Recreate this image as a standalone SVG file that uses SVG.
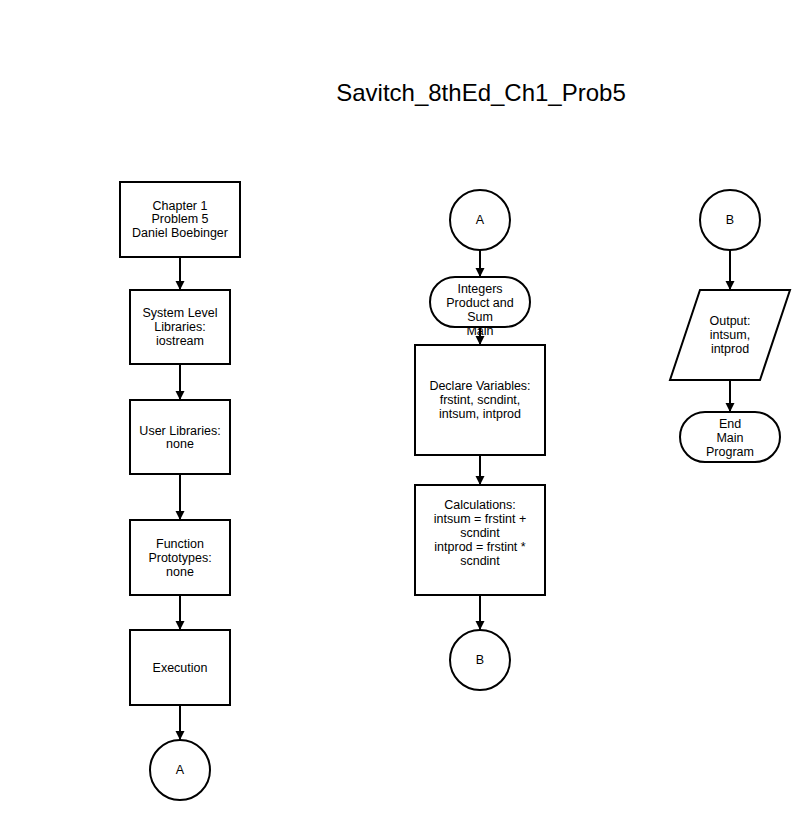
<svg xmlns="http://www.w3.org/2000/svg" width="800" height="820" viewBox="0 0 800 820">
<defs>
<style>
.n{fill:#fff;stroke:#000;stroke-width:2}
.t{font-family:"Liberation Sans",Arial,sans-serif;font-size:12.5px;fill:#000;text-anchor:middle}
.ti{font-family:"Liberation Sans",Arial,sans-serif;font-size:24px;fill:#000;text-anchor:middle}
.c{stroke:#000;stroke-width:2;fill:none;marker-end:url(#ah)}
</style>
<marker id="ah" viewBox="0 0 10 10" refX="10" refY="5" markerWidth="4.5" markerHeight="5" markerUnits="strokeWidth" orient="auto">
<path d="M0,0 L10,5 L0,10 z" fill="#000"/>
</marker>
</defs>
<rect width="800" height="820" fill="#fff"/>
<text class="ti" x="481" y="101">Savitch_8thEd_Ch1_Prob5</text>

<g id="connectors">
<line class="c" x1="180" y1="257" x2="180" y2="290"/>
<line class="c" x1="180" y1="364" x2="180" y2="400"/>
<line class="c" x1="180" y1="474" x2="180" y2="520"/>
<line class="c" x1="180" y1="595" x2="180" y2="630"/>
<line class="c" x1="180" y1="705" x2="180" y2="740"/>
<line class="c" x1="480" y1="250" x2="480" y2="277"/>
<line class="c" x1="480" y1="327" x2="480" y2="345"/>
<line class="c" x1="480" y1="455" x2="480" y2="485"/>
<line class="c" x1="480" y1="595" x2="480" y2="630"/>
<line class="c" x1="730" y1="250" x2="730" y2="290"/>
<line class="c" x1="730" y1="380" x2="730" y2="412"/>
</g>

<g id="start">
<rect class="n" x="120" y="182" width="120" height="75"/>
<text class="t" x="180" y="210">Chapter 1</text>
<text class="t" x="180" y="223">Problem 5</text>
<text class="t" x="180" y="237">Daniel Boebinger</text>
</g>
<g id="syslib">
<rect class="n" x="130" y="290" width="100" height="74"/>
<text class="t" x="180" y="317">System Level</text>
<text class="t" x="180" y="331">Libraries:</text>
<text class="t" x="180" y="345">iostream</text>
</g>
<g id="userlib">
<rect class="n" x="130" y="400" width="100" height="74"/>
<text class="t" x="180" y="435">User Libraries:</text>
<text class="t" x="180" y="448">none</text>
</g>
<g id="proto">
<rect class="n" x="130" y="520" width="100" height="75"/>
<text class="t" x="180" y="548">Function</text>
<text class="t" x="180" y="562">Prototypes:</text>
<text class="t" x="180" y="576">none</text>
</g>
<g id="exec">
<rect class="n" x="130" y="630" width="100" height="75"/>
<text class="t" x="180" y="672">Execution</text>
</g>
<g id="connA1">
<circle class="n" cx="180" cy="770" r="30"/>
<text class="t" x="180" y="774">A</text>
</g>

<g id="connA2">
<circle class="n" cx="480" cy="220" r="30"/>
<text class="t" x="480" y="224">A</text>
</g>
<g id="main">
<rect class="n" x="430" y="277" width="100" height="50" rx="25" ry="25"/>
<text class="t" x="480" y="293">Integers</text>
<text class="t" x="480" y="307">Product and</text>
<text class="t" x="480" y="321">Sum</text>
<text class="t" x="480" y="335">Main</text>
</g>
<g id="declare">
<rect class="n" x="415" y="345" width="130" height="110"/>
<text class="t" x="480" y="390">Declare Variables:</text>
<text class="t" x="480" y="404">frstint, scndint,</text>
<text class="t" x="480" y="418">intsum, intprod</text>
</g>
<g id="calc">
<rect class="n" x="415" y="485" width="130" height="110"/>
<text class="t" x="480" y="509">Calculations:</text>
<text class="t" x="480" y="523">intsum = frstint +</text>
<text class="t" x="480" y="537">scndint</text>
<text class="t" x="480" y="551">intprod = frstint *</text>
<text class="t" x="480" y="565">scndint</text>
</g>
<g id="connB1">
<circle class="n" cx="480" cy="660" r="30"/>
<text class="t" x="480" y="664">B</text>
</g>

<g id="connB2">
<circle class="n" cx="730" cy="220" r="30"/>
<text class="t" x="730" y="224">B</text>
</g>
<g id="output">
<polygon class="n" points="700,290 790,290 760,380 670,380"/>
<text class="t" x="730" y="325">Output:</text>
<text class="t" x="730" y="339">intsum,</text>
<text class="t" x="730" y="353">intprod</text>
</g>
<g id="end">
<rect class="n" x="680" y="412" width="100" height="50" rx="25" ry="25"/>
<text class="t" x="730" y="428">End</text>
<text class="t" x="730" y="442">Main</text>
<text class="t" x="730" y="456">Program</text>
</g>
</svg>
